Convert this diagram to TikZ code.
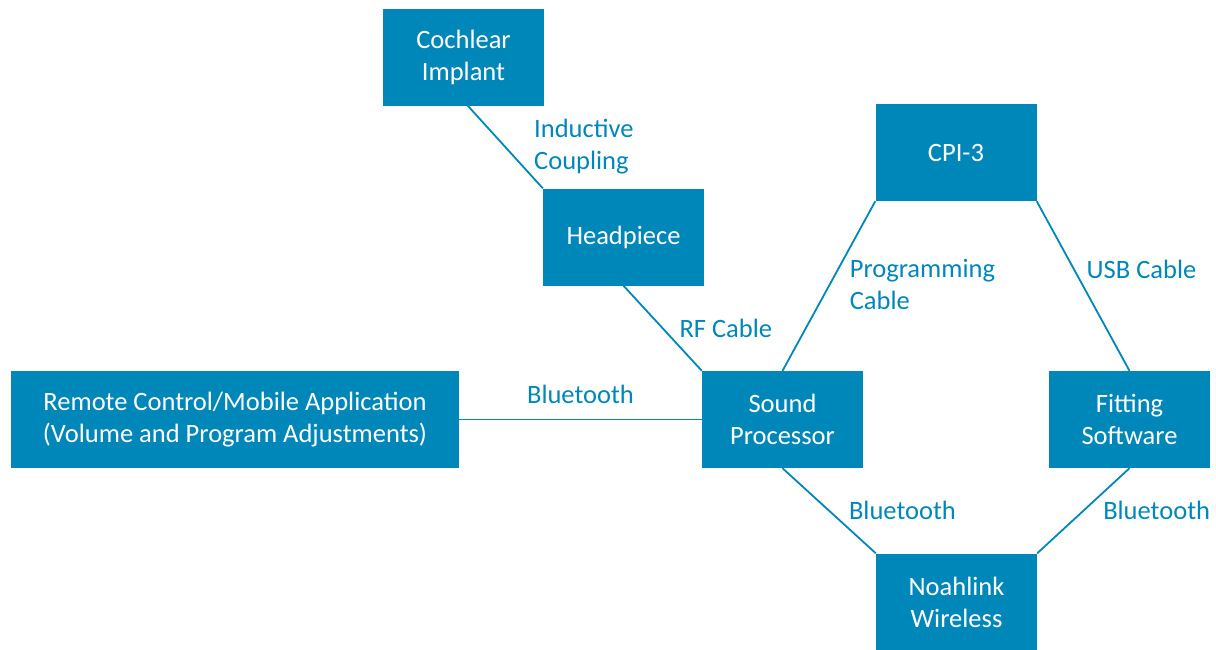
\documentclass[tikz,border=0pt]{standalone}
\usepackage{fontspec}
\setmainfont{Carlito}
\usetikzlibrary{positioning}
\definecolor{cochblue}{RGB}{0,135,185}

\tikzset{
  unit/.style={rectangle, fill=cochblue, text=white, minimum width=161pt,
    minimum height=97pt, align=center, inner sep=0pt,
    font=\fontsize{26.5}{32}\selectfont},
  wire/.style={draw=cochblue, line width=1.8pt},
  tag/.style={text=cochblue, align=left, inner sep=0pt,
    font=\fontsize{26.5}{32}\selectfont},
}

\begin{document}
\begin{tikzpicture}[on grid]
    \useasboundingbox (0,0) rectangle (1216pt,-649pt);
    \node [unit] (sp) at (782.5pt,-419.5pt) {Sound\\Processor};
    \node [unit, above left = 182.5pt and 159pt of sp] (hp) {Headpiece};
    \node [unit, above left = 180pt and 160pt of hp] (ci) {Cochlear\\Implant};
    \node [unit, above right = 267pt and 173.5pt of sp] (cpi) {CPI-3};
    \node [unit, right = 347pt of sp] (fs) {Fitting\\Software};
    \node [unit, below right = 182.5pt and 174pt of sp] (nw) {Noahlink\\Wireless};
    \node [unit, minimum width=448pt, left = 547.5pt of sp] (rc)
        {Remote Control/Mobile Application\\(Volume and Program Adjustments)};

    \draw [wire] (ci.275) -- node [tag, anchor=west, xshift=28pt] {Inductive\\Coupling} (hp.north west);
    \draw [wire] (hp.south) -- node [tag, anchor=west, xshift=16pt] {RF Cable} (sp.north west);
    \draw [wire] (cpi.south west) -- node [tag, anchor=west, xshift=20pt, yshift=2pt] {Programming\\Cable} (sp.north);
    \draw [wire] (cpi.south east) -- node [tag, pos=0.4, anchor=west, xshift=12pt] {USB Cable} (fs.north);
    \draw [wire] (rc.east) -- node [tag, anchor=south, yshift=15pt] {Bluetooth} (sp.west);
    \draw [wire] (sp.south) -- node [tag, anchor=west, xshift=19pt] {Bluetooth} (nw.north west);
    \draw [wire] (fs.south) -- node [tag, anchor=west, xshift=19pt] {Bluetooth} (nw.north east);
\end{tikzpicture}
\end{document}
